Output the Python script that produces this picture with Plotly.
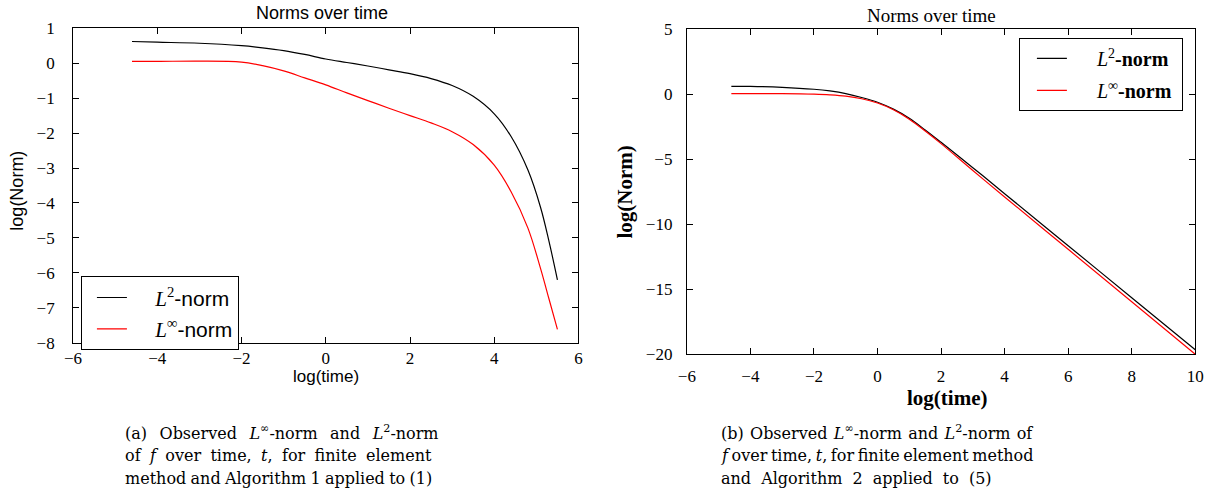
import plotly.graph_objects as go

W, H = 1222, 496

# ---- data ----
a_time = [-4.6, -4.0, -3.0, -2.0, -1.5, -1.0, -0.5, 0.0, 0.5, 1.0, 1.5, 2.0, 2.5, 3.0, 3.5, 4.0, 4.4, 4.8, 5.1, 5.3, 5.5]
a_L2   = [0.62, 0.60, 0.57, 0.50, 0.44, 0.36, 0.25, 0.12, 0.02, -0.08, -0.19, -0.30, -0.44, -0.64, -0.95, -1.45, -2.10, -3.06, -4.13, -5.10, -6.20]
a_Linf = [0.05, 0.05, 0.06, 0.03, -0.07, -0.22, -0.42, -0.62, -0.85, -1.07, -1.29, -1.50, -1.71, -1.96, -2.33, -2.92, -3.68, -4.72, -5.88, -6.75, -7.62]

b_time = [-4.6, -4.0, -3.0, -2.0, -1.5, -1.0, -0.5, 0.0, 0.5, 1.0, 1.5, 2.0, 3.0, 4.0, 6.0, 8.0, 10.0]
b_L2   = [0.61, 0.60, 0.53, 0.38, 0.25, 0.05, -0.25, -0.62, -1.15, -1.85, -2.75, -3.70, -5.65, -7.65, -11.65, -15.65, -19.65]
b_Linf = [0.05, 0.05, 0.04, 0.00, -0.05, -0.15, -0.35, -0.68, -1.20, -1.92, -2.83, -3.80, -5.87, -7.90, -11.93, -15.96, -20.00]

a_xticks = [-6, -4, -2, 0, 2, 4, 6]
a_yticks = [1, 0, -1, -2, -3, -4, -5, -6, -7, -8]
b_xticks = [-6, -4, -2, 0, 2, 4, 6, 8, 10]
b_yticks = [5, 0, -5, -10, -15, -20]

SANS = "Liberation Sans"
SERIF = "Liberation Serif"
CAPF = "DejaVu Serif"

def fx(px):
    return px / W

def fy(py):
    return 1 - py / H

# plot areas in pixels
A_L, A_R, A_T, A_B = 65, 578, 20, 347
B_L, B_R, B_T, B_B = 688, 1204, 21, 359

fig = go.Figure()

SPA = "\u00a0" * 4
SPB = "\u00a0" * 5
END = "\u00a0"
lab_L2_a = SPA + '<span style="font-family:Liberation Serif"><i>L</i><sup>2</sup></span>-norm'
lab_Li_a = SPA + '<span style="font-family:Liberation Serif"><i>L</i><sup>∞</sup></span>-norm'
lab_L2_b = SPB + '<i>L</i><sup>2</sup><b>-norm</b>' + END
lab_Li_b = SPB + '<i>L</i><sup>∞</sup><b>-norm</b>' + END

fig.add_trace(go.Scatter(x=a_time, y=a_L2, mode="lines", line=dict(color="black", width=1.2, shape="spline"),
                         name=lab_L2_a, xaxis="x", yaxis="y", legend="legend", legendgroup="a1"))
fig.add_trace(go.Scatter(x=a_time, y=a_Linf, mode="lines", line=dict(color="#ff0000", width=1.2, shape="spline"),
                         name=lab_Li_a, xaxis="x", yaxis="y", legend="legend", legendgroup="a2"))
fig.add_trace(go.Scatter(x=b_time, y=b_L2, mode="lines", line=dict(color="black", width=1.2, shape="spline"),
                         name=lab_L2_b, xaxis="x2", yaxis="y2", legend="legend2", legendgroup="b1"))
fig.add_trace(go.Scatter(x=b_time, y=b_Linf, mode="lines", line=dict(color="#ff0000", width=1.2, shape="spline"),
                         name=lab_Li_b, xaxis="x2", yaxis="y2", legend="legend2", legendgroup="b2"))

axis_common = dict(showline=True, linecolor="black", linewidth=1, mirror="allticks", ticks="inside",
                   ticklen=6, tickcolor="black", tickwidth=1, showgrid=False, zeroline=False,
                   tickfont=dict(family=SERIF, size=17, color="black"))

fig.update_layout(
    width=W, height=H, margin=dict(l=0, r=0, t=0, b=0),
    paper_bgcolor="white", plot_bgcolor="white", showlegend=True,
    xaxis=dict(domain=[fx(A_L), fx(A_R)], range=[-6, 6], tickvals=a_xticks, anchor="y",
               ticklabelstandoff=0, **axis_common),
    yaxis=dict(domain=[fy(A_B), fy(A_T)], range=[-8, 1], tickvals=a_yticks, anchor="x",
               ticklabelstandoff=14, **axis_common),
    xaxis2=dict(domain=[fx(B_L), fx(B_R)], range=[-6, 10], tickvals=b_xticks, anchor="y2",
                ticklabelstandoff=6, **axis_common),
    yaxis2=dict(domain=[fy(B_B), fy(B_T)], range=[-20, 5], tickvals=b_yticks, anchor="x2",
                ticklabelstandoff=10, **axis_common),
    legend=dict(x=fx(73), y=fy(278), xanchor="left", yanchor="top", bgcolor="white",
                bordercolor="black", borderwidth=1, font=dict(family=SANS, size=21, color="black"),
                tracegroupgap=1, itemwidth=30, indentation=10),
    legend2=dict(x=fx(1025), y=fy(30), xanchor="left", yanchor="top", bgcolor="white",
                 bordercolor="black", borderwidth=1, font=dict(family=SERIF, size=20, color="black"),
                 tracegroupgap=3, itemwidth=30, indentation=12),
)

ann = []
# titles
ann.append(dict(text="Norms over time", x=fx((A_L + A_R) / 2 - 4), y=fy(4), font=dict(family=SANS, size=18)))
ann.append(dict(text="Norms over time", x=fx((B_L + B_R) / 2 - 10), y=fy(7), font=dict(family=SERIF, size=19)))
# axis titles
ann.append(dict(text="log(time)", x=fx((A_L + A_R) / 2), y=fy(382), font=dict(family=SANS, size=17)))
ann.append(dict(text="log(Norm)", x=fx(8), y=fy(189), textangle=-90, font=dict(family=SANS, size=18)))
ann.append(dict(text="<b>log(time)</b>", x=fx((B_L + B_R) / 2 + 6), y=fy(405), font=dict(family=SERIF, size=21)))
ann.append(dict(text="<b>log(Norm)</b>", x=fx(625), y=fy(190), textangle=-90, font=dict(family=SERIF, size=21)))

cap_a = ["(a) Observed <i>L</i><sup>∞</sup>-norm and <i>L</i><sup>2</sup>-norm",
         "of <i>f</i> over time, <i>t</i>, for finite element",
         "method and Algorithm 1 applied to (1)"]
cap_b = ["(b) Observed <i>L</i><sup>∞</sup>-norm and <i>L</i><sup>2</sup>-norm of",
         "<i>f</i> over time, <i>t</i>, for finite element method",
         "and Algorithm 2 applied to (5)"]
ws_a = [7.4, 4.3, -0.8]
ws_b = [1.2, -1.5, 5.0]
for i, (ta, tb) in enumerate(zip(cap_a, cap_b)):
    yy = 440 + 24 * i
    ann.append(dict(text='<span style="word-spacing:%.1fpx">%s</span>' % (ws_a[i], ta),
                    x=fx(116), y=fy(yy), xanchor="left", font=dict(family=CAPF, size=16)))
    ann.append(dict(text='<span style="word-spacing:%.1fpx">%s</span>' % (ws_b[i], tb),
                    x=fx(721), y=fy(yy), xanchor="left", font=dict(family=CAPF, size=16)))

for a in ann:
    a.setdefault("xanchor", "center")
    a.update(xref="paper", yref="paper", showarrow=False, yanchor="middle")
    a["font"].setdefault("color", "black")
fig.update_layout(annotations=ann)

fig.write_html("out.html")
